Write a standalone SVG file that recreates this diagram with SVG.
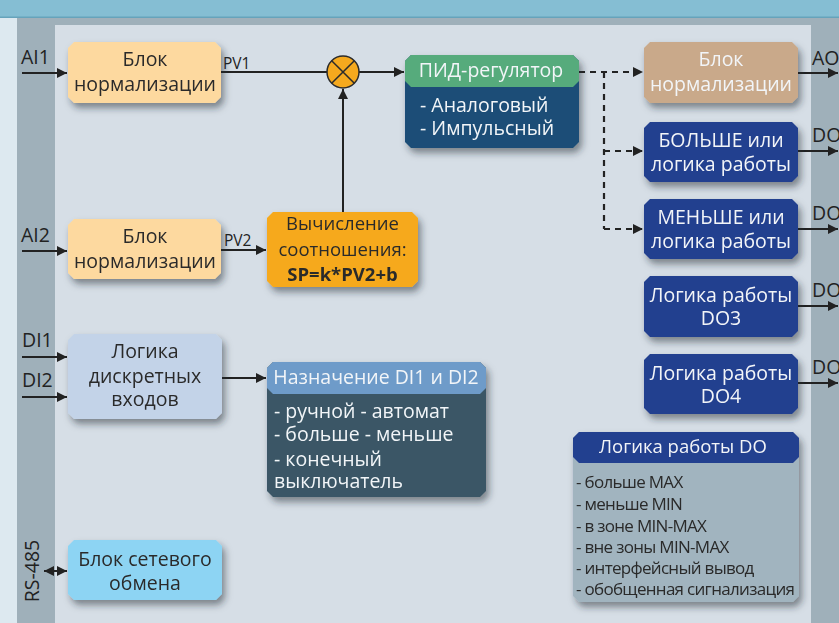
<svg xmlns="http://www.w3.org/2000/svg" width="839" height="623" viewBox="0 0 839 623">
  <style>
    .t { font-family: "Open Sans", "Noto Sans", "Liberation Sans", sans-serif; font-size: 19.5px; }
    .dark { fill: #2b2b2b; }
    .light { fill: #f2f5f8; }
    .c { text-anchor: middle; }
    .io { font-family: "Open Sans", "Noto Sans", sans-serif; font-size: 19.5px; fill: #222; }
    .pv { font-family: "Open Sans", "Noto Sans", sans-serif; font-size: 15.5px; fill: #222; }
    .small { font-family: "Open Sans", "Noto Sans", sans-serif; font-size: 17px; fill: #2a2a2a; letter-spacing: -0.7px; }
    .ln { stroke: #222; stroke-width: 2; fill: none; }
    .dash { stroke: #222; stroke-width: 2.2; fill: none; stroke-dasharray: 6 5; }
    .node { filter: url(#shadow); }
  </style>
  <defs>
    <filter id="shadow" x="-20%" y="-20%" width="140%" height="150%">
      <feDropShadow dx="3" dy="5" stdDeviation="3.5" flood-color="#1a2530" flood-opacity="0.5"/>
    </filter>
    <marker id="arr" viewBox="0 0 10 10" refX="10" refY="5" markerWidth="5" markerHeight="5" markerUnits="strokeWidth" orient="auto">
      <path d="M0,0 L10,5 L0,10 Z" fill="#222"/>
    </marker>
    <marker id="arrS" viewBox="0 0 10 10" refX="0" refY="5" markerWidth="5" markerHeight="5" markerUnits="strokeWidth" orient="auto">
      <path d="M10,0 L0,5 L10,10 Z" fill="#222"/>
    </marker>
  </defs>

  <!-- background frame -->
  <rect x="0" y="0" width="839" height="623" fill="#9fb0ba"/>
  <rect x="0" y="0" width="17" height="623" fill="#dde9f0"/>
  <rect x="55" y="25" width="756" height="598" fill="#d6dee6"/>
  <rect x="0" y="0" width="839" height="17" fill="#85bed3"/>
  <rect x="0" y="16.5" width="839" height="1.5" fill="#66a3bb"/>

  <!-- connectors -->
  <g id="connectors">
    <line class="ln" x1="22" y1="73" x2="67" y2="73" marker-end="url(#arr)"/>
    <line class="ln" x1="22" y1="251" x2="67" y2="251" marker-end="url(#arr)"/>
    <line class="ln" x1="22" y1="357" x2="67" y2="357" marker-end="url(#arr)"/>
    <line class="ln" x1="22" y1="397" x2="67" y2="397" marker-end="url(#arr)"/>
    <line class="ln" x1="44" y1="571" x2="67" y2="571" marker-start="url(#arrS)" marker-end="url(#arr)"/>

    <line class="ln" x1="221" y1="72" x2="327" y2="72"/>
    <line class="ln" x1="359" y1="72" x2="404" y2="72" marker-end="url(#arr)"/>
    <line class="ln" x1="343" y1="212" x2="343" y2="89" marker-end="url(#arr)"/>
    <line class="ln" x1="221" y1="250" x2="266" y2="250" marker-end="url(#arr)"/>
    <line class="ln" x1="222" y1="378" x2="266" y2="378" marker-end="url(#arr)"/>

    <path class="dash" d="M579,72 H642"/>
    <path class="dash" d="M604,72 V229"/>
    <path class="dash" d="M604,151 H642"/>
    <path class="dash" d="M604,229 H642"/>
    <line class="ln" x1="579" y1="72" x2="643" y2="72" stroke-opacity="0" marker-end="url(#arr)"/>
    <line class="ln" x1="604" y1="151" x2="643" y2="151" stroke-opacity="0" marker-end="url(#arr)"/>
    <line class="ln" x1="604" y1="229" x2="643" y2="229" stroke-opacity="0" marker-end="url(#arr)"/>

    <line class="ln" x1="798" y1="73" x2="838" y2="73" marker-end="url(#arr)"/>
    <line class="ln" x1="798" y1="151" x2="838" y2="151" marker-end="url(#arr)"/>
    <line class="ln" x1="798" y1="229" x2="838" y2="229" marker-end="url(#arr)"/>
    <line class="ln" x1="798" y1="306" x2="838" y2="306" marker-end="url(#arr)"/>
    <line class="ln" x1="798" y1="383" x2="838" y2="383" marker-end="url(#arr)"/>

    <text class="io" x="21" y="64">AI1</text>
    <text class="io" x="21" y="242">AI2</text>
    <text class="io" x="22" y="347">DI1</text>
    <text class="io" x="22" y="387">DI2</text>
    <text class="io" transform="translate(39,571) rotate(-90)" text-anchor="middle">RS-485</text>
    <text class="pv" x="223" y="69">PV1</text>
    <text class="pv" x="224" y="246">PV2</text>
    <text class="io" x="812" y="65">AO</text>
    <text class="io" x="812" y="142">DO1</text>
    <text class="io" x="812" y="220">DO2</text>
    <text class="io" x="812" y="297">DO3</text>
    <text class="io" x="812" y="374">DO4</text>
  </g>

  <!-- input normalisation blocks -->
  <g id="norm1" class="node">
    <path d="M74,42 H215 L221,48 V97 L215,103 H74 L68,97 V48 Z" fill="#fdd99f"/>
    <text class="t dark c" x="145" y="66">Блок</text>
    <text class="t dark c" x="145" y="91">нормализации</text>
  </g>
  <g id="norm2" class="node">
    <path d="M74,219 H215 L221,225 V273 L215,279 H74 L68,273 V225 Z" fill="#fdd99f"/>
    <text class="t dark c" x="145" y="243">Блок</text>
    <text class="t dark c" x="145" y="268">нормализации</text>
  </g>

  <!-- summing junction -->
  <g id="sum">
    <circle cx="343" cy="72" r="16" fill="#f5a91e" stroke="#2b2b2b" stroke-width="1.5"/>
    <path d="M331.7,60.7 L354.3,83.3 M354.3,60.7 L331.7,83.3" stroke="#2b2b2b" stroke-width="1.5"/>
  </g>

  <!-- ratio calculation -->
  <g id="calc" class="node">
    <path d="M273,212 H412 L418,218 V281 L412,287 H273 L267,281 V218 Z" fill="#f6a91c"/>
    <text class="t dark c" x="342.5" y="230" style="font-size:18.5px">Вычисление</text>
    <text class="t dark c" x="342.5" y="256" style="font-size:18.5px">соотношения:</text>
    <text class="t dark c" x="342.5" y="281" style="font-size:18.5px;font-weight:bold">SP=k*PV2+b</text>
  </g>

  <!-- PID controller -->
  <g id="pid" class="node">
    <path d="M411,55 H573 L579,61 V142 L573,148 H411 L405,142 V61 Z" fill="#1d4e77"/>
    <path d="M411,55 H573 L579,61 V81 L573,87 H411 L405,81 V61 Z" fill="#56ab7b"/>
    <text class="t light c" x="491" y="77">ПИД-регулятор</text>
    <text class="t light" x="420" y="112">- Аналоговый</text>
    <text class="t light" x="420" y="135">- Импульсный</text>
  </g>

  <!-- outputs -->
  <g id="ao" class="node">
    <path d="M650,42 H792 L798,48 V97 L792,103 H650 L644,97 V48 Z" fill="#c9a98a"/>
    <text class="t light c" x="721" y="66">Блок</text>
    <text class="t light c" x="721" y="91">нормализации</text>
  </g>
  <g id="do1" class="node">
    <path d="M650,122 H792 L798,128 V176 L792,182 H650 L644,176 V128 Z" fill="#243f8f"/>
    <text class="t light c" x="721" y="147">БОЛЬШЕ или</text>
    <text class="t light c" x="721" y="171">логика работы</text>
  </g>
  <g id="do2" class="node">
    <path d="M650,199 H792 L798,205 V253 L792,259 H650 L644,253 V205 Z" fill="#243f8f"/>
    <text class="t light c" x="721" y="224">МЕНЬШЕ или</text>
    <text class="t light c" x="721" y="248">логика работы</text>
  </g>
  <g id="do3" class="node">
    <path d="M650,276 H792 L798,282 V331 L792,337 H650 L644,331 V282 Z" fill="#243f8f"/>
    <text class="t light c" x="721" y="302">Логика работы</text>
    <text class="t light c" x="721" y="325">DO3</text>
  </g>
  <g id="do4" class="node">
    <path d="M650,354 H792 L798,360 V408 L792,414 H650 L644,408 V360 Z" fill="#243f8f"/>
    <text class="t light c" x="721" y="380">Логика работы</text>
    <text class="t light c" x="721" y="403">DO4</text>
  </g>

  <!-- discrete inputs -->
  <g id="dilogic" class="node">
    <path d="M74,334 H216 L222,340 V413 L216,419 H74 L68,413 V340 Z" fill="#c3d3e8"/>
    <text class="t dark c" x="145" y="358">Логика</text>
    <text class="t dark c" x="145" y="383">дискретных</text>
    <text class="t dark c" x="145" y="406">входов</text>
  </g>
  <g id="assign" class="node">
    <path d="M273,362 H480 L486,368 V491 L480,497 H273 L267,491 V368 Z" fill="#3a5766"/>
    <path d="M273,362 H480 L486,368 V388 L480,394 H273 L267,388 V368 Z" fill="#6e9bc9"/>
    <text class="t light c" x="376" y="384">Назначение DI1 и DI2</text>
    <text class="t light" x="274" y="418">- ручной - автомат</text>
    <text class="t light" x="274" y="441">- больше - меньше</text>
    <text class="t light" x="274" y="466">- конечный</text>
    <text class="t light" x="274" y="488">выключатель</text>
  </g>

  <!-- DO logic legend -->
  <g id="dologic" class="node">
    <path d="M579,432 H793 L799,438 V596 L793,602 H579 L573,596 V438 Z" fill="#a1b4bf"/>
    <path d="M579,432 H793 L799,438 V457 L793,463 H579 L573,457 V438 Z" fill="#243f8f"/>
    <text class="t light c" x="683" y="453" style="font-size:18.5px">Логика работы DO</text>
    <text class="small" x="576" y="488">- больше MAX</text>
    <text class="small" x="576" y="510">- меньше MIN</text>
    <text class="small" x="576" y="532">- в зоне MIN-MAX</text>
    <text class="small" x="576" y="553">- вне зоны MIN-MAX</text>
    <text class="small" x="576" y="574">- интерфейсный вывод</text>
    <text class="small" x="576" y="595">- обобщенная сигнализация</text>
  </g>

  <!-- network block -->
  <g id="net" class="node">
    <path d="M74,540 H216 L222,546 V594 L216,600 H74 L68,594 V546 Z" fill="#8dd4f3"/>
    <text class="t dark c" x="145" y="566">Блок сетевого</text>
    <text class="t dark c" x="145" y="590">обмена</text>
  </g>
</svg>
